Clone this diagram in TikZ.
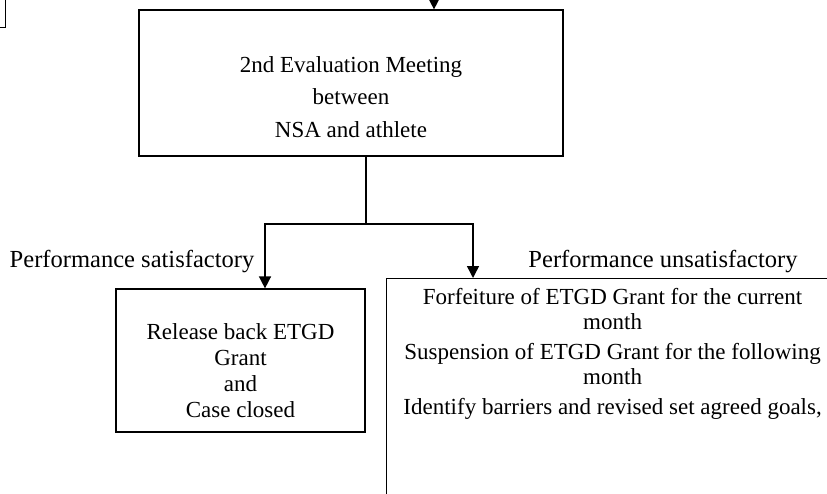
\documentclass[tikz,border=0pt]{standalone}
\usepackage{fontspec}
\setmainfont{Liberation Serif}
\usetikzlibrary{positioning,arrows.meta}
\tikzset{
  stagebox/.style={draw, line width=0.9pt, align=center, inner sep=0pt},
  outcome/.style={font=\fontsize{18.4}{20}\selectfont},
  link/.style={line width=1.1pt},
  linkarrow/.style={link, -{Triangle[length=9pt,width=9pt]}},
}

\begin{document}
\begin{tikzpicture}[x=0.75pt, y=-0.75pt, font=\fontsize{17.25}{18.75}\selectfont]
  \useasboundingbox (0,0) rectangle (827,493);
  \clip (0,0) rectangle (827,493);
  % boxes
  \node (prev) [stagebox, anchor=south east, minimum width=90pt, minimum height=45pt] at (6,28) {};
  \node (meet) [stagebox, minimum width=318pt, minimum height=109.5pt,
    font=\fontsize{17.25}{24.4}\selectfont] at (351,83)
    {\rule{0pt}{33pt}2nd Evaluation Meeting\\between\\NSA and athlete};
  \node (release) [stagebox, minimum width=186.75pt, minimum height=107.25pt,
    font=\fontsize{17.25}{19.5}\selectfont] at (240.5,360.5)
    {\rule{0pt}{26.5pt}Release back ETGD\\Grant\\and\\Case closed};
  \node (unsat) [stagebox, anchor=north west, minimum width=339pt, inner ysep=7pt] at (386,278)
    {Forfeiture of ETGD Grant for the current\\month\\[4pt]
     Suspension of ETGD Grant for the following\\month\\[3.5pt]
     Identify barriers and revised set agreed goals,\rule[-90pt]{0pt}{0pt}};
  % labels
  \node (satlbl) [outcome, anchor=east] at (259,262) {Performance satisfactory};
  \node (unsatlbl) [outcome] at (663,262) {Performance unsatisfactory};
  % connectors
  \coordinate (intop) at (434,-6);
  \coordinate (fork) at (366,224);
  \coordinate (satdrop) at (265,224);
  \coordinate (unsatdrop) at (473,224);
  \draw[linkarrow] (intop) -- (intop |- meet.north);
  \draw[link] (meet.south -| fork) -- (fork);
  \draw[linkarrow] (fork) -| (satdrop |- release.north);
  \draw[linkarrow] (fork) -| (unsatdrop |- unsat.north);
\end{tikzpicture}
\end{document}
